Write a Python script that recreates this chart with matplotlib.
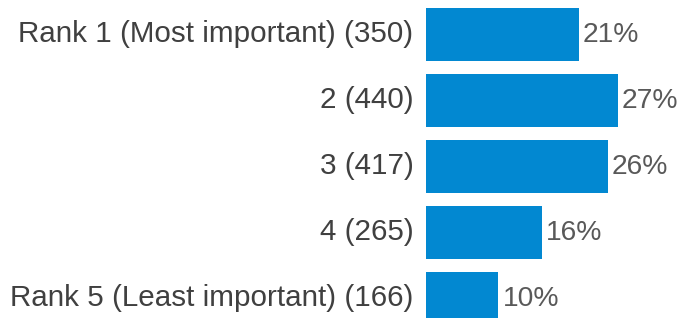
import numpy as np
import matplotlib
matplotlib.use("Agg")
import matplotlib.pyplot as plt

# 数据
labels = ["Rank 1 (Most important)", "2", "3", "4", "Rank 5 (Least important)"]
counts = [350, 440, 417, 265, 166]
pct_labels = ["21%", "27%", "26%", "16%", "10%"]

bar_color = "#0288d1"
label_color = "#404040"
pct_color = "#595959"

plt.rcParams['font.family'] = ['Liberation Sans', 'DejaVu Sans']

total = sum(counts)
pcts = [c / total * 100 for c in counts]
ypos = np.arange(len(counts))

fig = plt.figure(figsize=(6.81, 3.18), dpi=100)
ax = fig.add_axes([426 / 681, 0, 255 / 681, 1])

ax.barh(ypos, pcts, height=0.8, color=bar_color)

# 像素到数据坐标
px_per_pct = 7.14
ax.set_xlim(0, 255 / px_per_pct)
ax.set_ylim((318 - 34.5) / 66, -34.5 / 66)
ax.axis("off")

for y, p, pl, lab, c in zip(ypos, pcts, pct_labels, labels, counts):
    ax.annotate(pl, xy=(p, y), xytext=(3, 0), textcoords="offset points",
                ha="left", va="center", fontsize=20.3, color=pct_color)
    ax.annotate(f"{lab} ({c})", xy=(0, y), xytext=(-9, 0), textcoords="offset points",
                ha="right", va="center", fontsize=21.3, color=label_color,
                annotation_clip=False)

fig.savefig("out.png", dpi=100)
